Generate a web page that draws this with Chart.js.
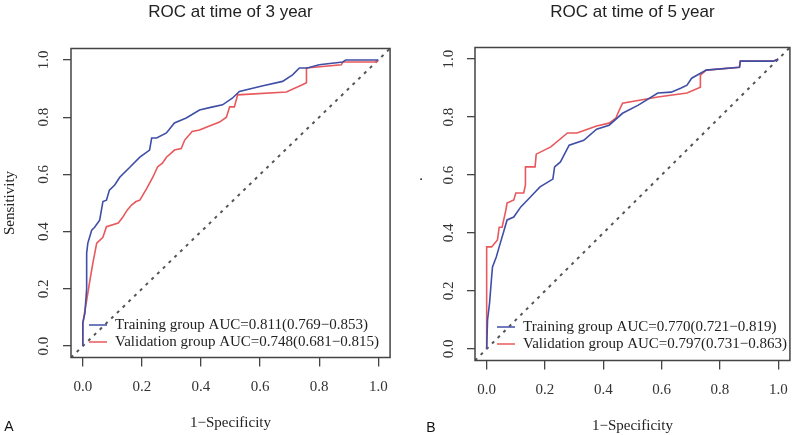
<!DOCTYPE html>
<html>
<head>
<meta charset="utf-8">
<script src="https://cdn.jsdelivr.net/npm/chart.js@4.4.1/dist/chart.umd.min.js"></script>
<style>
body { margin: 0; background: #fff; }
.panel { position: absolute; top: 0; width: 400px; height: 435px; }
</style>
</head>
<body>
<div class="panel" style="left:0"><canvas id="g3" width="400" height="435"></canvas></div>
<div class="panel" style="left:400px"><canvas id="g5" width="400" height="435"></canvas></div>
<script>
// ejes (los mismos en las dos gráficas)
const tickVals = [0, 0.2, 0.4, 0.6, 0.8, 1.0];
const tickLabels = ['0.0', '0.2', '0.4', '0.6', '0.8', '1.0'];
const diagX = [-0.04, 1.04];
const diagY = [-0.04, 1.04];

// ROC a 3 años
const train3X = [0, 0, 0.007, 0.013, 0.013, 0.017, 0.03, 0.04, 0.057, 0.068, 0.08, 0.09, 0.108, 0.125, 0.16, 0.193, 0.226, 0.233, 0.25, 0.283, 0.31, 0.35, 0.395, 0.44, 0.473, 0.507, 0.53, 0.61, 0.676, 0.71, 0.733, 0.76, 0.80, 0.88, 0.89, 1.0];
const train3Y = [0, 0.08, 0.115, 0.2, 0.325, 0.36, 0.405, 0.415, 0.44, 0.505, 0.51, 0.545, 0.563, 0.59, 0.626, 0.66, 0.685, 0.727, 0.727, 0.745, 0.78, 0.797, 0.825, 0.836, 0.843, 0.867, 0.89, 0.91, 0.925, 0.948, 0.972, 0.972, 0.983, 0.993, 1.0, 1.0];
const valid3X = [0, 0, 0.013, 0.024, 0.034, 0.047, 0.068, 0.08, 0.12, 0.135, 0.15, 0.165, 0.18, 0.193, 0.216, 0.237, 0.253, 0.27, 0.283, 0.30, 0.31, 0.333, 0.345, 0.37, 0.395, 0.42, 0.463, 0.486, 0.497, 0.513, 0.524, 0.689, 0.743, 0.757, 0.757, 0.875, 0.88, 0.993, 1.0];
const valid3Y = [0, 0.08, 0.16, 0.23, 0.29, 0.36, 0.38, 0.417, 0.43, 0.45, 0.475, 0.493, 0.505, 0.51, 0.55, 0.59, 0.626, 0.64, 0.66, 0.675, 0.685, 0.69, 0.72, 0.75, 0.755, 0.766, 0.783, 0.80, 0.836, 0.836, 0.878, 0.888, 0.913, 0.92, 0.972, 0.983, 0.993, 0.993, 1.0];
const legend3 = ['Training group AUC=0.811(0.769\u22120.853)', 'Validation group AUC=0.748(0.681\u22120.815)'];

// ROC a 5 años
const train5X = [0, 0.003, 0.01, 0.017, 0.02, 0.033, 0.043, 0.06, 0.07, 0.093, 0.117, 0.15, 0.183, 0.227, 0.233, 0.253, 0.283, 0.333, 0.377, 0.42, 0.466, 0.52, 0.587, 0.633, 0.667, 0.687, 0.703, 0.753, 0.867, 0.87, 0.983, 1.0];
const train5Y = [0, 0.1, 0.159, 0.248, 0.283, 0.317, 0.352, 0.41, 0.445, 0.455, 0.49, 0.524, 0.559, 0.586, 0.628, 0.645, 0.703, 0.72, 0.758, 0.772, 0.813, 0.841, 0.883, 0.886, 0.9, 0.91, 0.934, 0.962, 0.972, 0.993, 0.993, 1.0];
const valid5X = [0, 0, 0.017, 0.037, 0.043, 0.053, 0.066, 0.07, 0.093, 0.1, 0.127, 0.133, 0.133, 0.166, 0.17, 0.22, 0.277, 0.31, 0.377, 0.42, 0.443, 0.45, 0.466, 0.587, 0.687, 0.733, 0.733, 0.753, 0.867, 0.87, 0.983, 1.0];
const valid5Y = [0, 0.352, 0.352, 0.376, 0.42, 0.42, 0.48, 0.503, 0.514, 0.538, 0.538, 0.566, 0.628, 0.628, 0.672, 0.697, 0.745, 0.745, 0.769, 0.779, 0.796, 0.813, 0.848, 0.869, 0.883, 0.903, 0.945, 0.962, 0.972, 0.993, 0.993, 1.0];
const legend5 = ['Training group AUC=0.770(0.721\u22120.819)', 'Validation group AUC=0.797(0.731\u22120.863)'];

const blue = '#3f4fa6';
const red = '#e8585c';
const axisColor = '#444';
const serif = '"Liberation Serif", "Times New Roman", serif';
const sans = '"Liberation Sans", Arial, sans-serif';

const pts = (xs, ys) => xs.map((x, i) => ({ x: x, y: ys[i] }));

// caja, leyenda dentro del gráfico y letra del panel
const rBox = {
    id: 'rBox',
    afterDatasetsDraw(chart, args, o) {
        const ctx = chart.ctx;
        const a = chart.chartArea;
        ctx.save();
        ctx.strokeStyle = axisColor;
        ctx.lineWidth = 1.5;
        ctx.strokeRect(a.left, a.top, a.right - a.left, a.bottom - a.top);

        ctx.font = '15px ' + serif;
        ctx.textBaseline = 'middle';
        ctx.fillStyle = '#222';
        chart.data.datasets.slice(0, 2).forEach((ds, i) => {
            const y = a.bottom - o.dy + i * 17;
            ctx.strokeStyle = ds.borderColor;
            ctx.lineWidth = 1.5;
            ctx.beginPath();
            ctx.moveTo(a.left + o.dx, y);
            ctx.lineTo(a.left + o.dx + 18, y);
            ctx.stroke();
            ctx.fillText(ds.label, a.left + o.dx + 26, y);
        });

        ctx.font = '14px ' + sans;
        ctx.fillStyle = '#111';
        ctx.textBaseline = 'middle';
        ctx.textAlign = 'center';
        ctx.fillText(o.letter, o.lx, o.ly);
        if (o.dot) {
            ctx.font = '15px ' + serif;
            ctx.fillText('.', o.dot[0], o.dot[1]);
        }
        ctx.restore();
    }
};

function rocChart(el, title, legend, tx, ty, vx, vy, g) {
    return new Chart(el, {
        type: 'scatter',
        plugins: [rBox],
        data: {
            datasets: [{
                label: legend[0],
                data: pts(tx, ty),
                showLine: true,
                borderColor: blue,
                borderWidth: 1.6,
                pointRadius: 0
            }, {
                label: legend[1],
                data: pts(vx, vy),
                showLine: true,
                borderColor: red,
                borderWidth: 1.6,
                pointRadius: 0
            }, {
                label: '',
                data: pts(diagX, diagY),
                showLine: true,
                borderColor: '#555',
                borderWidth: 2,
                borderDash: [3, 5],
                pointRadius: 0
            }]
        },
        options: {
            responsive: false,
            animation: false,
            layout: { padding: { left: 0, right: g.padRight, top: 0, bottom: 0 } },
            plugins: {
                legend: { display: false },
                tooltip: { enabled: false },
                rBox: g.box
            },
            scales: {
                x: {
                    type: 'linear',
                    position: 'bottom',
                    min: -0.04,
                    max: 1.04,
                    afterBuildTicks: s => { s.ticks = tickVals.map(v => ({ value: v })); },
                    afterFit: s => { s.height = g.xHeight; },
                    grid: { drawOnChartArea: false, tickLength: 9, color: axisColor, lineWidth: 1.3 },
                    border: { display: false },
                    ticks: {
                        autoSkip: false,
                        padding: 12,
                        color: '#333',
                        font: { family: serif, size: 15 },
                        callback: (v, i) => tickLabels[i]
                    },
                    title: {
                        display: true,
                        text: '1\u2212Specificity',
                        color: '#222',
                        font: { family: serif, size: 15 },
                        padding: { top: 0, bottom: g.xTitlePad }
                    }
                },
                y: {
                    type: 'linear',
                    position: 'left',
                    min: -0.04,
                    max: 1.04,
                    afterBuildTicks: s => { s.ticks = tickVals.map(v => ({ value: v })); },
                    afterFit: s => { s.width = g.yWidth; },
                    grid: { drawOnChartArea: false, tickLength: 8, color: axisColor, lineWidth: 1.3 },
                    border: { display: false },
                    ticks: {
                        autoSkip: false,
                        minRotation: 90,
                        maxRotation: 90,
                        crossAlign: 'center',
                        padding: g.yTickPad,
                        color: '#333',
                        font: { family: serif, size: 15 },
                        callback: (v, i) => tickLabels[i]
                    },
                    title: {
                        display: g.yTitle !== '',
                        text: g.yTitle,
                        color: '#222',
                        font: { family: serif, size: 15 },
                        padding: { top: 1, bottom: 0 }
                    }
                },
                top: {
                    type: 'linear',
                    position: 'top',
                    display: true,
                    min: -0.04,
                    max: 1.04,
                    afterFit: s => { s.height = g.topHeight; },
                    grid: { display: false },
                    border: { display: false },
                    ticks: { display: false },
                    title: {
                        display: true,
                        text: title,
                        color: '#222',
                        font: { family: sans, size: 17 },
                        padding: { top: 1.8, bottom: 0 }
                    }
                }
            }
        }
    });
}

rocChart(document.getElementById('g3'), 'ROC at time of 3 year', legend3,
    train3X, train3Y, valid3X, valid3Y, {
        padRight: 9, xHeight: 77.5, yWidth: 71, topHeight: 48.5, yTickPad: 10,
        xTitlePad: 3, yTitle: 'Sensitivity',
        box: { dx: 18, dy: 32.5, letter: 'A', lx: 9, ly: 427 }
    });

rocChart(document.getElementById('g5'), 'ROC at time of 5 year', legend5,
    train5X, train5Y, valid5X, valid5Y, {
        padRight: 1, xHeight: 74.5, yWidth: 75, topHeight: 47.5, yTickPad: 9,
        xTitlePad: 0, yTitle: '',
        box: { dx: 22, dy: 33.5, letter: 'B', lx: 31, ly: 428, dot: [21, 176] }
    });
</script>
</body>
</html>
